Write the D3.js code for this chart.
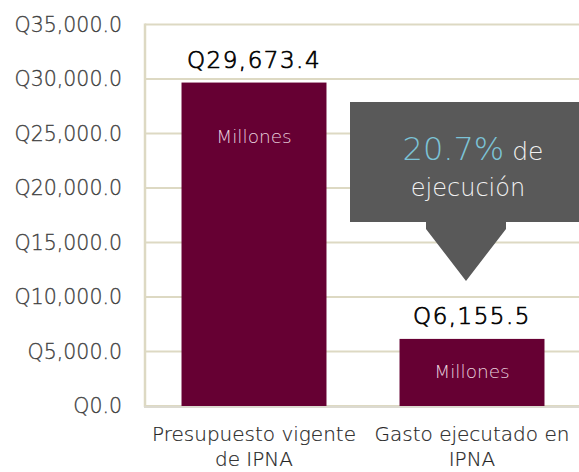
<!DOCTYPE html>
<html>
<head>
<meta charset="utf-8">
<script src="https://cdn.jsdelivr.net/npm/d3@7"></script>
<style>
    body { margin: 0; background: #fff; }
    svg { display: block; font-family: "DejaVu Sans", sans-serif; }
</style>
</head>
<body>
<div id="chart"></div>
<script>
'use strict';

let width = 579;
let height = 472;
let margin = { top: 24.5, bottom: 66, left: 145, right: -2 };

// data
const categories = [["Presupuesto vigente", "de IPNA"], ["Gasto ejecutado en", "IPNA"]];
const values = [29673.4, 6155.5];
const valueLabels = ["Q29,673.4", "Q6,155.5"];
const yTicks = [0, 5000, 10000, 15000, 20000, 25000, 30000, 35000];
const callout = { pct: "20.7%", line1: " de", line2: "ejecución" };

const fmt = d3.format(",.1f");

let svg = d3.select("#chart")
    .append("svg")
    .attr("width", width)
    .attr("height", height);

const yScale = d3.scaleLinear()
    .domain([0, 35000])
    .range([height - margin.bottom, margin.top]);

const xScale = d3.scaleBand()
    .domain(d3.range(values.length))
    .range([margin.left, width - margin.right])
    .paddingInner(0.335)
    .paddingOuter(0.1675);

// gridlines
svg.append("g")
    .selectAll("line")
    .data(yTicks)
    .join("line")
    .attr("x1", margin.left)
    .attr("x2", width)
    .attr("y1", d => yScale(d))
    .attr("y2", d => yScale(d))
    .attr("stroke", "#DDD9C3")
    .attr("stroke-width", 2);

// left axis line
svg.append("line")
    .attr("x1", margin.left)
    .attr("x2", margin.left)
    .attr("y1", yScale(35000) - 1)
    .attr("y2", yScale(0) + 1)
    .attr("stroke", "#DDD9C3")
    .attr("stroke-width", 2.5);

// y labels
svg.append("g")
    .selectAll("text")
    .data(yTicks)
    .join("text")
    .attr("x", 122)
    .attr("y", d => yScale(d))
    .attr("dy", "0.36em")
    .attr("text-anchor", "end")
    .attr("fill", "#404040")
    .attr("stroke", "#404040")
    .attr("stroke-width", 0.3)
    .style("font-size", "20.5px")
    .style("font-weight", 200)
    .text(d => "Q" + fmt(d));

// bars
svg.append("g")
    .selectAll("rect")
    .data(values)
    .join("rect")
    .attr("x", (d, i) => xScale(i))
    .attr("y", d => yScale(d))
    .attr("width", xScale.bandwidth())
    .attr("height", d => yScale(0) - yScale(d))
    .attr("fill", "#660033");

// bottom axis line
svg.append("line")
    .attr("x1", margin.left - 1)
    .attr("x2", width)
    .attr("y1", yScale(0) + 1)
    .attr("y2", yScale(0) + 1)
    .attr("stroke", "#DCDAD0")
    .attr("stroke-width", 2);

// value labels above bars
svg.append("g")
    .selectAll("text")
    .data(values)
    .join("text")
    .attr("x", (d, i) => xScale(i) + xScale.bandwidth() / 2)
    .attr("y", d => yScale(d) - 15)
    .attr("text-anchor", "middle")
    .attr("fill", "#000")
    .attr("stroke", "#000")
    .attr("stroke-width", 0.7)
    .style("font-size", "23px")
    .style("font-weight", 200)
    .style("letter-spacing", "1.5px")
    .text((d, i) => valueLabels[i]);

// "Millones" inside the bars (near the top of tall bars, centred in short ones)
svg.append("g")
    .selectAll("text")
    .data(values)
    .join("text")
    .attr("x", (d, i) => xScale(i) + xScale.bandwidth() / 2)
    .attr("y", d => yScale(d) + Math.min(60, (yScale(0) - yScale(d)) / 2 + 6))
    .attr("text-anchor", "middle")
    .attr("fill", "#E8D0DD")
    .style("font-size", "18.5px")
    .style("font-weight", 200)
    .text("Millones");

// category labels
const cat = svg.append("g")
    .selectAll("text")
    .data(categories)
    .join("text")
    .attr("text-anchor", "middle")
    .attr("fill", "#262626")
    .attr("stroke", "#262626")
    .attr("stroke-width", 0.2)
    .style("font-size", "20px")
    .style("font-weight", 200);

cat.selectAll("tspan")
    .data((d, i) => d.map(t => ({ t, i })))
    .join("tspan")
    .attr("x", d => xScale(d.i) + xScale.bandwidth() / 2)
    .attr("y", (d, j) => 441 + j * 25)
    .text(d => d.t);

// callout box with arrow pointing to bar 2
const cx = xScale(1) + xScale.bandwidth() / 2 - 6;
const boxTop = 102, boxBottom = 222, boxLeft = 350;
const tipY = yScale(values[1]) - 58;

svg.append("path")
    .attr("d", `M${boxLeft},${boxTop} H${width} V${boxBottom} H${cx + 40} V${boxBottom + 7} L${cx},${tipY} L${cx - 40},${boxBottom + 7} V${boxBottom} H${boxLeft} Z`)
    .attr("fill", "#595959");

const t1 = svg.append("text")
    .attr("x", cx + 7)
    .attr("y", 160)
    .attr("text-anchor", "middle")
    .style("font-weight", 200);
t1.append("tspan")
    .attr("fill", "#7CC3D6")
    .style("font-size", "32px")
    .text(callout.pct);
t1.append("tspan")
    .attr("fill", "#F2F2F2")
    .style("font-size", "25px")
    .text(callout.line1);

svg.append("text")
    .attr("x", cx + 2)
    .attr("y", 196)
    .attr("text-anchor", "middle")
    .attr("fill", "#F2F2F2")
    .style("font-size", "24px")
    .style("font-weight", 200)
    .text(callout.line2);
</script>
</body>
</html>
